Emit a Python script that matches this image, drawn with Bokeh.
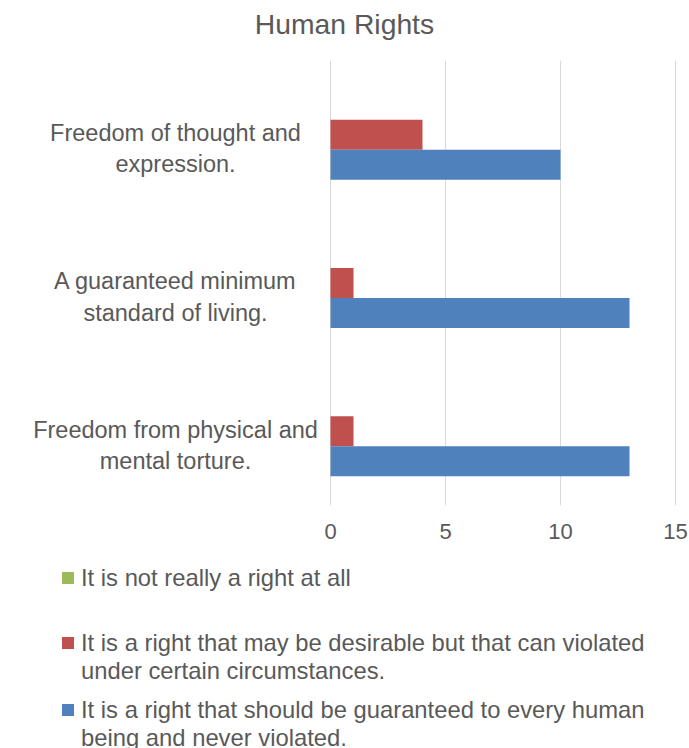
from bokeh.plotting import figure
from bokeh.models import (ColumnDataSource, FactorRange, Range1d, Legend, LegendItem, FixedTicker, Div)
from bokeh.layouts import column
from bokeh.core.properties import value
from bokeh.transform import dodge
from bokeh.embed import file_html
from bokeh.resources import INLINE

# ---- data ----
title = "Human Rights"
categories = [
    "Freedom of thought and\nexpression.",
    "A guaranteed minimum\nstandard of living.",
    "Freedom from physical and\nmental torture.",
]
series_lines = [
    ["It is not really a right at all"],
    ["It is a right that may be desirable but that can violated",
     "under certain circumstances."],
    ["It is a right that should be guaranteed to every human",
     "being and never violated."],
]
not_a_right = [0, 0, 0]
may_be_violated = [4, 1, 1]
guaranteed = [10, 13, 13]
x_ticks = [0, 5, 10, 15]

colors = ["#9bbb59", "#c0504d", "#4f81bd"]
FONT = "Liberation Sans"
GREY = "#595959"
FS = "23.5px"
LFS = "23.8px"

PX = 23.0  # pixels per unit along x
cats_bottom_up = list(reversed(categories))
cols = ["s0", "s1", "s2"]
source = ColumnDataSource(dict(cat=categories, s0=not_a_right, s1=may_be_violated, s2=guaranteed))

# ---------------- title ----------------
head = Div(text=('<div style="width:689px;text-align:center;font-family:\'Liberation Sans\';'
                 'font-size:28.3px;color:%s;line-height:48px;white-space:nowrap">%s</div>') % (GREY, title),
           width=689, height=60, margin=0)

# ---------------- chart ----------------
p = figure(width=689, height=495, y_range=FactorRange(*cats_bottom_up, range_padding=0),
           x_range=Range1d(-330 / PX, 15 + 1 / PX), output_backend="svg", toolbar_location=None,
           y_axis_location=None, min_border_left=0, min_border_right=13,
           min_border_top=0, min_border_bottom=50)
p.outline_line_color = None
p.ygrid.grid_line_color = None
p.xgrid.grid_line_color = "#d9d9d9"
p.xgrid.grid_line_width = 1
p.xaxis.ticker = FixedTicker(ticks=x_ticks)
p.xgrid.ticker = FixedTicker(ticks=x_ticks)
p.xaxis.axis_line_color = None
p.xaxis.major_tick_line_color = None
p.xaxis.minor_tick_line_color = None
p.xaxis.major_label_text_font = FONT
p.xaxis.major_label_text_font_size = "22px"
p.xaxis.major_label_text_color = GREY
p.xaxis.major_label_standoff = 12

bh = 0.2023
offsets = [bh, 0.0, -bh]
for i, col in enumerate(cols):
    p.hbar(y=dodge("cat", offsets[i], range=p.y_range), left=0, right=col, height=bh,
           source=source, fill_color=colors[i], line_color=None)

p.text(x=0, y=dodge("cat", -0.095, range=p.y_range), text="cat", source=source,
       x_offset=-155, text_align="center", text_baseline="middle",
       text_font=value(FONT), text_font_size=FS, text_color=GREY)

# ---------------- legend ----------------
# same data with zero-height bars (nothing visible in the frame); only the legend shows
q = figure(width=689, height=193, x_range=Range1d(100, 101),
           y_range=FactorRange(*cats_bottom_up, range_padding=0),
           output_backend="svg", toolbar_location=None, x_axis_location=None,
           y_axis_location=None, min_border=0)
q.outline_line_color = None
q.xgrid.visible = False
q.ygrid.visible = False

legend_bottoms = [156.5, 63.5, -3.5]
for i, col in enumerate(cols):
    swatch = q.hbar(y="cat", left=0, right=col, height=0, source=source,
                    fill_color=colors[i], line_color=None)
    blank = q.hbar(y="cat", left=0, right=col, height=0, source=source,
                   fill_alpha=0, line_alpha=0)
    items = [LegendItem(label=series_lines[i][0], renderers=[swatch])]
    for extra in series_lines[i][1:]:
        items.append(LegendItem(label=extra, renderers=[blank]))
    leg = Legend(items=items, location=(60, legend_bottoms[i]), orientation="vertical",
                 glyph_width=15, glyph_height=15, label_height=27,
                 label_text_font=FONT, label_text_font_size=LFS, label_text_color=GREY,
                 border_line_color=None, background_fill_alpha=0, padding=0, margin=0,
                 spacing=0, label_standoff=6)
    q.add_layout(leg)

open("out.html", "w").write(file_html(column(head, p, q, spacing=0), INLINE))
